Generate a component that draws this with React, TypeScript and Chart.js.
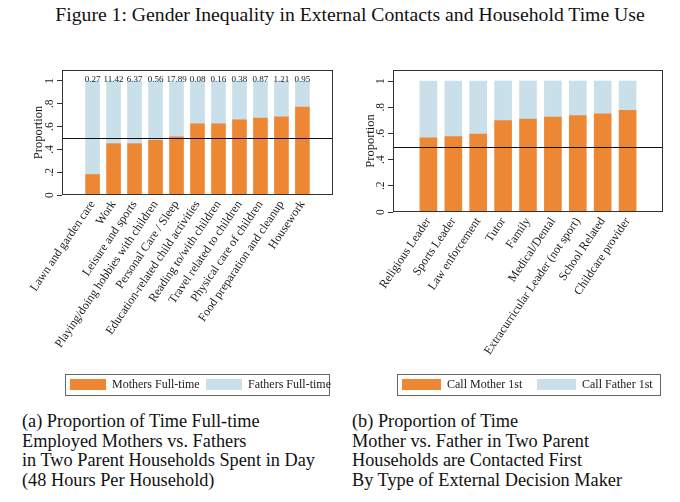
import React, { useEffect, useRef } from 'react';
import { Chart, registerables } from 'chart.js';

Chart.register(...registerables);

// ---------- data ----------
const timeCategories = [
  'Lawn and garden care',
  'Work',
  'Leisure and sports',
  'Playing/doing hobbies with children',
  'Personal Care / Sleep',
  'Education-related child activities',
  'Reading to/with children',
  'Travel related to children',
  'Physical care of children',
  'Food preparation and cleanup',
  'Housework',
];
const mothersFullTime = [0.18, 0.45, 0.45, 0.48, 0.51, 0.625, 0.625, 0.66, 0.675, 0.685, 0.77];
const fathersFullTime = [0.82, 0.55, 0.55, 0.52, 0.49, 0.375, 0.375, 0.34, 0.325, 0.315, 0.23];
const hoursLabels = ['0.27', '11.42', '6.37', '0.56', '17.89', '0.08', '0.16', '0.38', '0.87', '1.21', '0.95'];

const contactCategories = [
  'Religious Leader',
  'Sports Leader',
  'Law enforcement',
  'Tutor',
  'Family',
  'Medical/Dental',
  'Extracurricular Leader (not sport)',
  'School Related',
  'Childcare provider',
];
const callMotherFirst = [0.567, 0.575, 0.595, 0.698, 0.709, 0.724, 0.737, 0.75, 0.776];
const callFatherFirst = [0.433, 0.425, 0.405, 0.302, 0.291, 0.276, 0.263, 0.25, 0.224];

const yTicks = [0, 0.2, 0.4, 0.6, 0.8, 1];
const yTickLabels = ['0', '.2', '.4', '.6', '.8', '1'];
const referenceLine = 0.5;
const labelsAtValue = 1;

// ---------- styles ----------
const ORANGE = '#EE8734';
const LTBLUE = '#C9E0EA';
const FONT = "'Liberation Serif', 'Times New Roman', serif";
const INK = '#1a1a1a';

const framePlugin = {
  id: 'frame',
  afterDatasetsDraw(chart: any, _args: any, opts: any) {
    const { ctx, chartArea: a, scales } = chart;
    ctx.save();
    // reference line
    const ry = Math.round(scales.y.getPixelForValue(opts.refValue)) + 0.5;
    ctx.strokeStyle = '#111';
    ctx.lineWidth = 1;
    ctx.beginPath();
    ctx.moveTo(a.left, ry);
    ctx.lineTo(a.right, ry);
    ctx.stroke();
    // plot frame
    ctx.strokeStyle = '#333';
    ctx.strokeRect(Math.round(a.left) + 0.5, Math.round(a.top) + 0.5, Math.round(a.width) - 1, Math.round(a.height) - 1);
    // top labels
    if (opts.topLabels) {
      ctx.fillStyle = INK;
      ctx.font = `9px ${FONT}`;
      ctx.textAlign = 'center';
      ctx.textBaseline = 'middle';
      const ty = scales.y.getPixelForValue(opts.topLabelValue) - 1;
      opts.topLabels.forEach((t: string, i: number) => {
        ctx.fillText(t, scales.x.getPixelForValue(i), ty);
      });
    }
    // legend
    const lg = opts.legend;
    if (lg) {
      ctx.strokeStyle = '#666';
      ctx.lineWidth = 1;
      ctx.strokeRect(lg.x + 0.5, lg.y + 0.5, lg.w, lg.h);
      ctx.font = `12px ${FONT}`;
      ctx.textAlign = 'left';
      ctx.textBaseline = 'middle';
      chart.data.datasets.forEach((ds: any, i: number) => {
        const sx = lg.x + lg.pad + i * lg.colW;
        const sy = lg.y + (lg.h - lg.swatchH) / 2;
        ctx.fillStyle = ds.backgroundColor;
        ctx.fillRect(sx, sy, lg.swatchW, lg.swatchH);
        ctx.fillStyle = INK;
        ctx.fillText(ds.label, sx + lg.swatchW + 6, lg.y + lg.h / 2 + 0.5);
      });
    }
    ctx.restore();
  },
};

function makeConfig(p: any) {
  const n = p.categories.length;
  return {
    type: 'bar',
    data: {
      datasets: [
        {
          label: p.labels[0],
          data: p.a.map((v: number, i: number) => ({ x: i, y: v })),
          backgroundColor: ORANGE,
          stack: 's',
          barThickness: p.barW,
        },
        {
          label: p.labels[1],
          data: p.b.map((v: number, i: number) => ({ x: i, y: v })),
          backgroundColor: LTBLUE,
          stack: 's',
          barThickness: p.barW,
        },
      ],
    },
    options: {
      responsive: false,
      animation: false,
      devicePixelRatio: 1,
      layout: { padding: { left: 0, right: p.padRight, top: 10, bottom: p.padBottom } },
      plugins: {
        legend: { display: false },
        tooltip: { enabled: false },
        frame: {
          refValue: referenceLine,
          topLabels: p.topLabels,
          topLabelValue: labelsAtValue,
          legend: p.legend,
        },
      },
      scales: {
        x: {
          type: 'linear',
          stacked: true,
          min: -p.margin,
          max: n - 1 + p.margin,
          afterBuildTicks: (s: any) => {
            s.ticks = p.categories.map((_: string, i: number) => ({ value: i }));
          },
          afterFit: (s: any) => {
            s.height = p.xHeight;
            s.paddingLeft = 0;
            s.paddingRight = 0;
          },
          ticks: {
            autoSkip: false,
            minRotation: 56,
            maxRotation: 56,
            padding: 3,
            color: INK,
            font: { family: FONT, size: 12 },
            callback: (v: number) => p.categories[v],
          },
          grid: { display: false, drawTicks: false },
          border: { display: false },
        },
        y: {
          type: 'linear',
          stacked: true,
          min: 0,
          max: p.yMax,
          afterBuildTicks: (s: any) => {
            s.ticks = yTicks.map((v) => ({ value: v }));
          },
          afterFit: (s: any) => {
            s.width = p.yWidth;
            s.paddingTop = 0;
            s.paddingBottom = 0;
          },
          ticks: {
            minRotation: 90,
            maxRotation: 90,
            crossAlign: 'center',
            padding: 3,
            color: INK,
            font: { family: FONT, size: 11.5 },
            callback: (_v: number, i: number) => yTickLabels[i],
          },
          grid: {
            display: true,
            drawOnChartArea: false,
            drawTicks: true,
            tickLength: 5,
            tickColor: '#333',
            color: '#333',
          },
          border: { display: false },
          title: {
            display: true,
            text: 'Proportion',
            color: INK,
            font: { family: FONT, size: 12.5 },
            padding: { top: p.titlePad, bottom: 0 },
          },
        },
      },
    },
    plugins: [framePlugin],
  } as any;
}

function BarPanel(props: any) {
  const ref = useRef<HTMLCanvasElement>(null);
  useEffect(() => {
    if (!ref.current) return;
    const chart = new Chart(ref.current, makeConfig(props.params));
    return () => chart.destroy();
  }, []);
  return (
    <canvas
      ref={ref}
      width={340}
      height={345}
      style={{ position: 'absolute', left: props.left, top: 60, width: 340, height: 345 }}
    />
  );
}

const captionStyle: React.CSSProperties = {
  position: 'absolute',
  top: 412,
  fontFamily: FONT,
  fontSize: 18.3,
  lineHeight: '19.7px',
  color: '#111',
  whiteSpace: 'nowrap',
};

export default function App() {
  const left = {
    categories: timeCategories,
    a: mothersFullTime,
    b: fathersFullTime,
    labels: ['Mothers Full-time', 'Fathers Full-time'],
    topLabels: hoursLabels,
    barW: 14,
    margin: 0.87,
    yMax: 1.096,
    yWidth: 62,
    titlePad: 31,
    padRight: 7,
    xHeight: 160,
    padBottom: 50,
    legend: { x: 65, y: 314, w: 264, h: 21, pad: 5, colW: 136, swatchW: 36, swatchH: 11 },
  };
  const right = {
    categories: contactCategories,
    a: callMotherFirst,
    b: callFatherFirst,
    labels: ['Call Mother 1st', 'Call Father 1st'],
    topLabels: null,
    barW: 17,
    margin: 0.82,
    yMax: 1.084,
    yWidth: 53,
    titlePad: 23,
    padRight: 17,
    xHeight: 143,
    padBottom: 50,
    legend: { x: 57, y: 314, w: 263, h: 21, pad: 5, colW: 135, swatchW: 39, swatchH: 11 },
  };
  return (
    <div style={{ position: 'absolute', left: 0, top: 0, width: 680, height: 502, background: '#fff', overflow: 'hidden' }}>
      <div
        style={{
          position: 'absolute',
          left: 20,
          top: 2,
          width: 660,
          textAlign: 'center',
          fontFamily: FONT,
          fontSize: 19.7,
          lineHeight: '24px',
          color: '#111',
          whiteSpace: 'nowrap',
        }}
      >
        Figure 1: Gender Inequality in External Contacts and Household Time Use
      </div>
      <BarPanel left={0} params={left} />
      <BarPanel left={340} params={right} />
      <div style={{ ...captionStyle, left: 22 }}>
        (a) Proportion of Time Full-time
        <br />
        Employed Mothers vs. Fathers
        <br />
        in Two Parent Households Spent in Day
        <br />
        (48 Hours Per Household)
      </div>
      <div style={{ ...captionStyle, left: 352 }}>
        (b) Proportion of Time
        <br />
        Mother vs. Father in Two Parent
        <br />
        Households are Contacted First
        <br />
        By Type of External Decision Maker
      </div>
    </div>
  );
}
